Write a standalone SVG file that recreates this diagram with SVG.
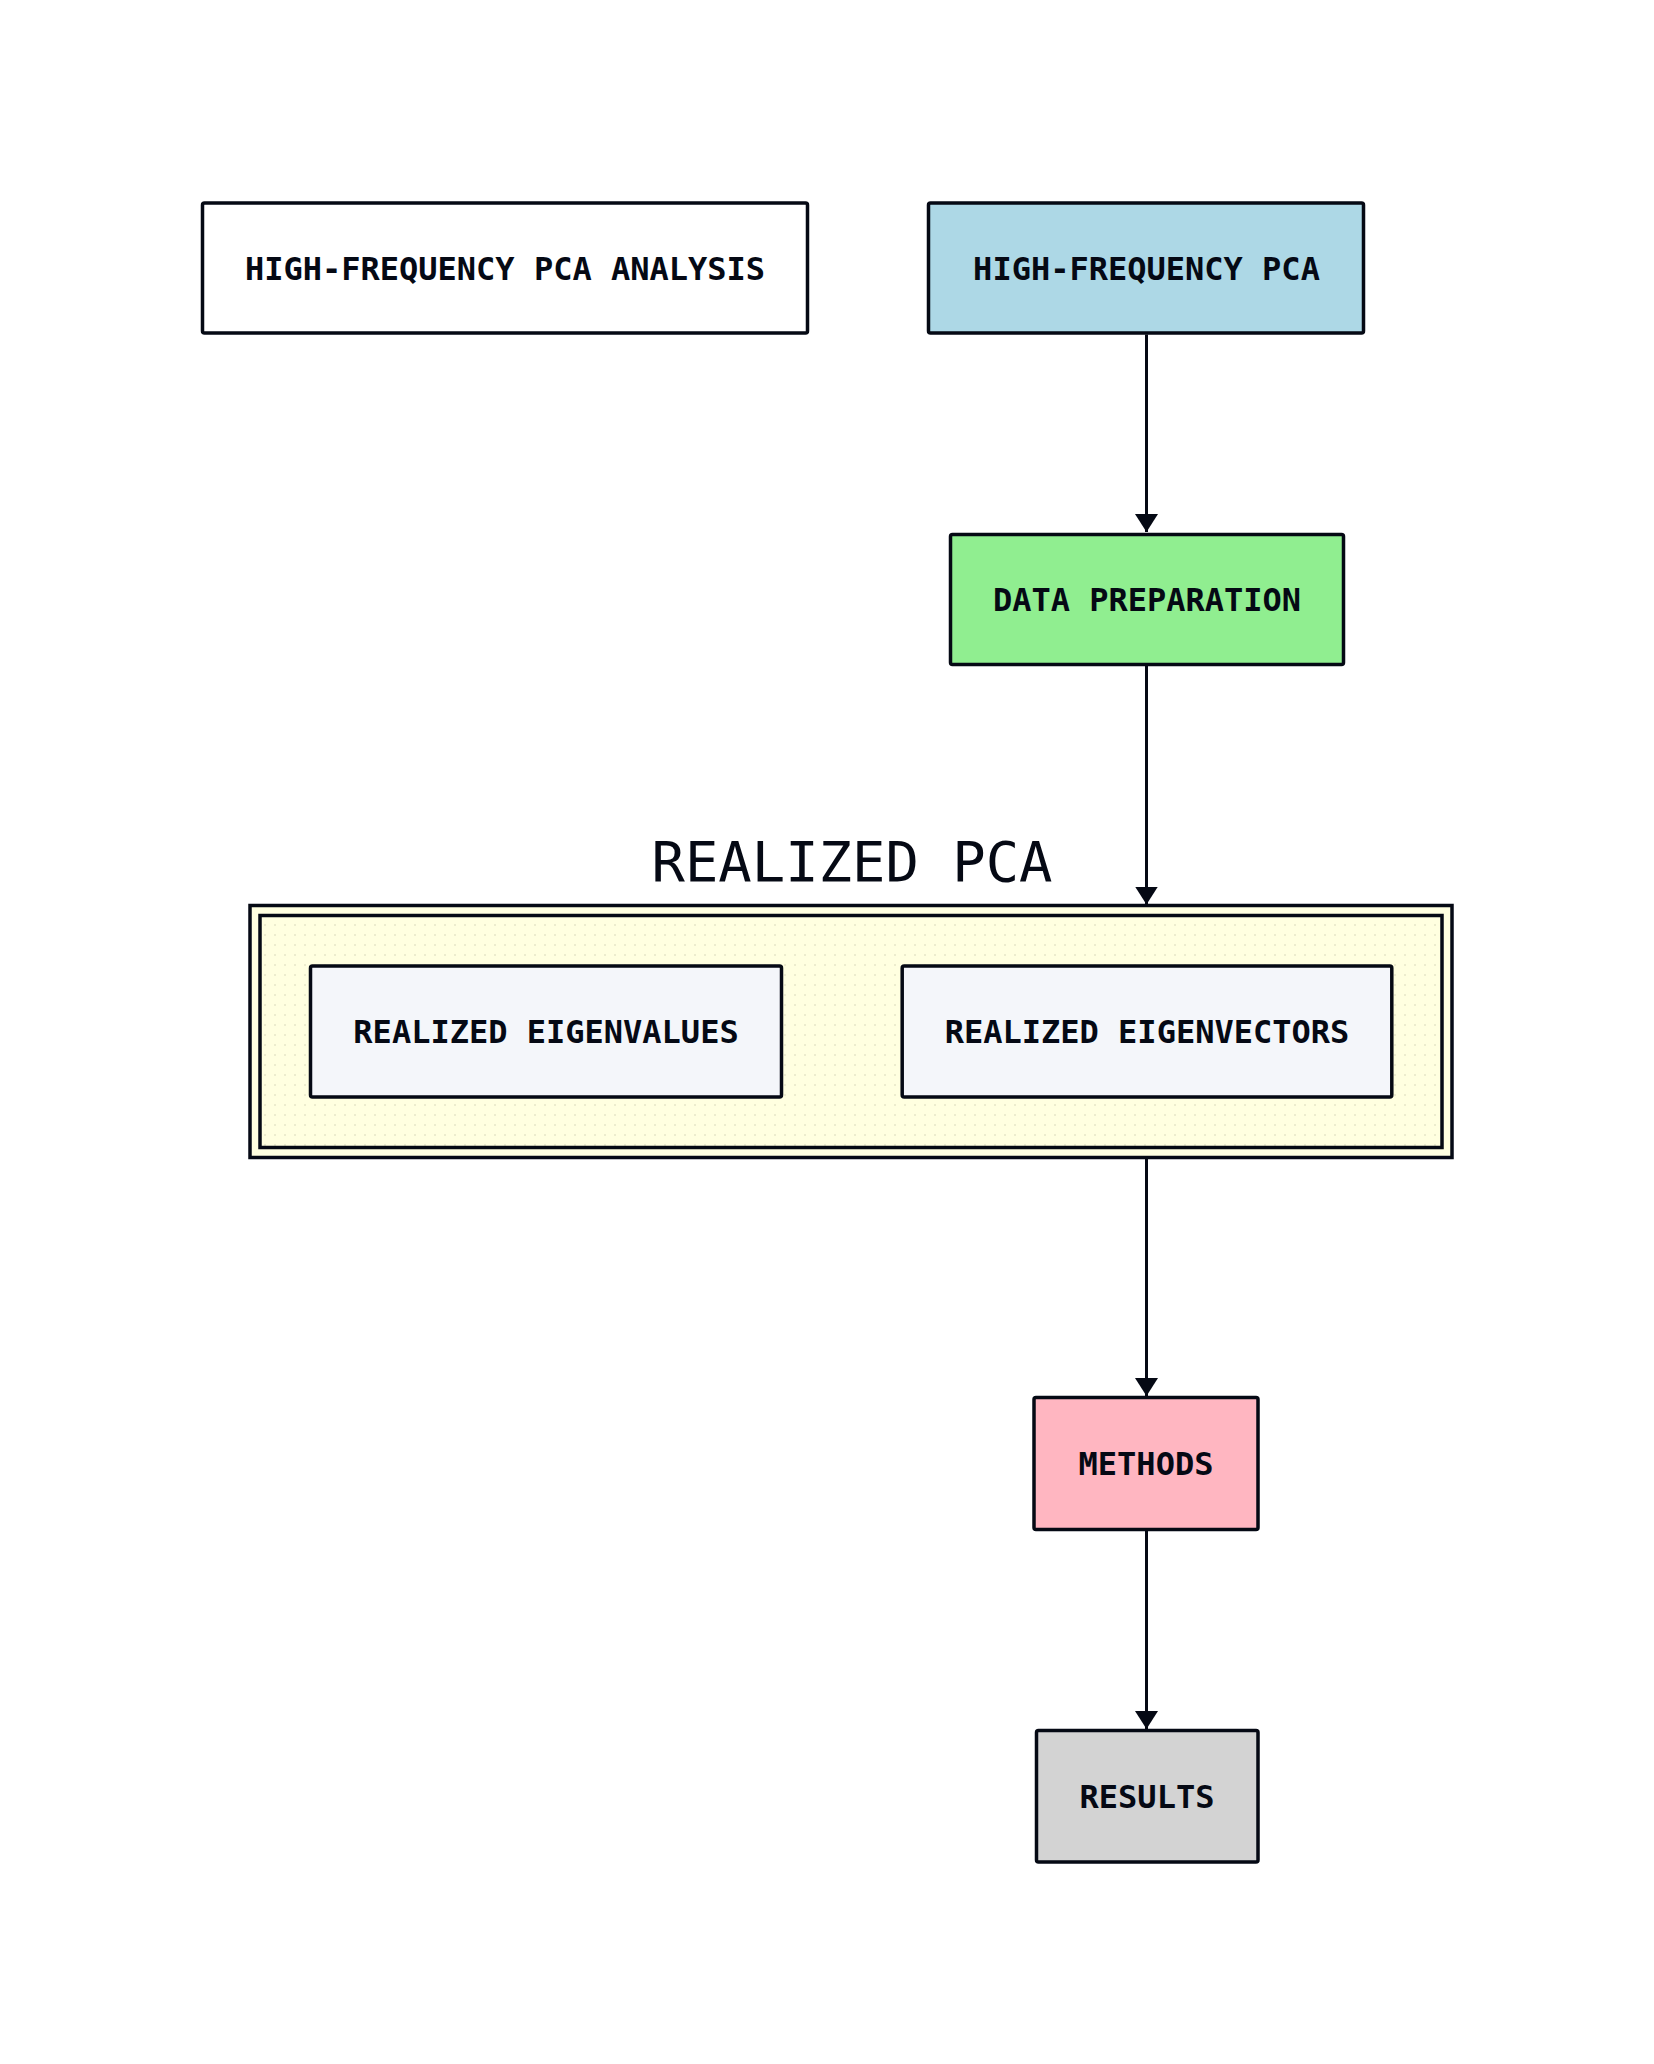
<svg xmlns="http://www.w3.org/2000/svg" width="1654" height="2064" viewBox="0 0 1654 2064">
  <defs>
    <style>
      .box { stroke: #050914; stroke-width: 3.5; }
      .lbl { font-family: "DejaVu Sans Mono", "Liberation Mono", monospace; font-size: 32px; font-weight: bold; fill: #050914; text-anchor: middle; }
      .title { font-family: "DejaVu Sans Mono", "Liberation Mono", monospace; font-size: 55.5px; fill: #050914; text-anchor: middle; }
      .edge { stroke: #050914; stroke-width: 3; fill: none; }
    </style>
    <pattern id="dots" x="0" y="0" width="10" height="10" patternUnits="userSpaceOnUse">
      <rect width="10" height="10" fill="#ffffe0"/>
      <circle cx="5" cy="5" r="1" fill="#e6e6c8"/>
    </pattern>
    <marker id="arrow" markerUnits="userSpaceOnUse" markerWidth="18" markerHeight="23" refX="18" refY="11.5" orient="auto" viewBox="0 0 18 23">
      <path d="M0,0 L18,11.5 L0,23 Z" fill="#050914"/>
    </marker>
  </defs>
  <rect width="1654" height="2064" fill="#ffffff"/>

  <g id="hf-pca-analysis">
    <rect class="box" x="202.5" y="203" width="605" height="130" rx="2" fill="#ffffff"/>
    <text class="lbl" x="505" y="279.5">HIGH-FREQUENCY PCA ANALYSIS</text>
  </g>

  <g id="hf-pca">
    <rect class="box" x="928.5" y="203" width="435" height="130" rx="2" fill="#add8e6"/>
    <text class="lbl" x="1146.5" y="279.5">HIGH-FREQUENCY PCA</text>
  </g>

  <g id="data-preparation">
    <rect class="box" x="950.5" y="534.5" width="393" height="130" rx="2" fill="#90ee90"/>
    <text class="lbl" x="1147" y="611">DATA PREPARATION</text>
  </g>

  <g id="realized-pca">
    <text class="title" x="852" y="880.5">REALIZED PCA</text>
    <rect class="box" x="250" y="905.5" width="1202" height="252" fill="#ffffe0"/>
    <rect class="box" x="260" y="915.5" width="1182" height="232" fill="url(#dots)"/>
  </g>

  <g id="realized-eigenvalues">
    <rect class="box" x="310.5" y="966" width="471" height="131" rx="2" fill="#f4f6fa"/>
    <text class="lbl" x="546" y="1043">REALIZED EIGENVALUES</text>
  </g>

  <g id="realized-eigenvectors">
    <rect class="box" x="902.2" y="966" width="489.6" height="131" rx="2" fill="#f4f6fa"/>
    <text class="lbl" x="1147" y="1043">REALIZED EIGENVECTORS</text>
  </g>

  <g id="methods">
    <rect class="box" x="1034" y="1397.5" width="224" height="132" rx="2" fill="#ffb6c1"/>
    <text class="lbl" x="1146" y="1475">METHODS</text>
  </g>

  <g id="results">
    <rect class="box" x="1036.5" y="1730.5" width="221.5" height="131.5" rx="2" fill="#d3d3d3"/>
    <text class="lbl" x="1147" y="1807.5">RESULTS</text>
  </g>

  <g id="connectors">
    <line class="edge" x1="1146.5" y1="334.5" x2="1146.5" y2="532" marker-end="url(#arrow)"/>
    <line class="edge" x1="1146.5" y1="666" x2="1146.5" y2="904.5" marker-end="url(#arrow)"/>
    <line class="edge" x1="1146.5" y1="1159" x2="1146.5" y2="1396" marker-end="url(#arrow)"/>
    <line class="edge" x1="1146.5" y1="1531" x2="1146.5" y2="1729" marker-end="url(#arrow)"/>
  </g>
</svg>
